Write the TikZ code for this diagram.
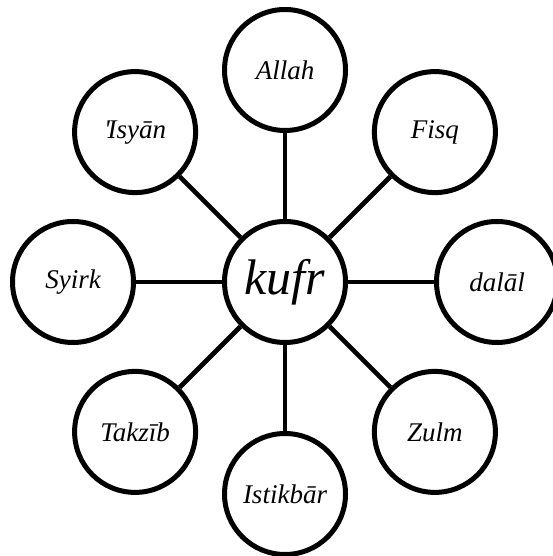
\documentclass[tikz,border=0pt]{standalone}
\usepackage{fontspec}
\setmainfont{Liberation Serif}
\usetikzlibrary{calc}
\begin{document}
\begin{tikzpicture}[x=1pt,y=1pt,
  bubble/.style={circle,draw,line width=5pt,minimum size=121pt,inner sep=0pt,fill=white,font=\fontsize{27}{30}\selectfont\itshape},
  hub/.style={bubble,font=\fontsize{50}{54}\selectfont\itshape},
  spoke/.style={line width=4.6pt}]
\useasboundingbox (0,0) rectangle (552,556);
\node[hub] (c) at (285,274) {kufr};
\node[bubble] (n)  at ($(c)+(90:212)$)  {Allah};
\node[bubble] (ne) at ($(c)+(45:212)$)  {Fisq};
\node[bubble] (e)  at ($(c)+(0:212)$)   {dalāl};
\node[bubble] (se) at ($(c)+(-45:212)$) {Zulm};
\node[bubble] (s)  at ($(c)+(-90:212)$) {Istikbār};
\node[bubble] (sw) at ($(c)+(-135:212)$) {Takzīb};
\node[bubble] (w)  at ($(c)+(180:212)$) {Syirk};
\node[bubble] (nw) at ($(c)+(135:212)$) {\textquotesingle\kern-0.08em Isyān};
\foreach \t in {n,ne,e,se,s,sw,w,nw}{\draw[spoke] (c) -- (\t);}
\end{tikzpicture}
\end{document}
